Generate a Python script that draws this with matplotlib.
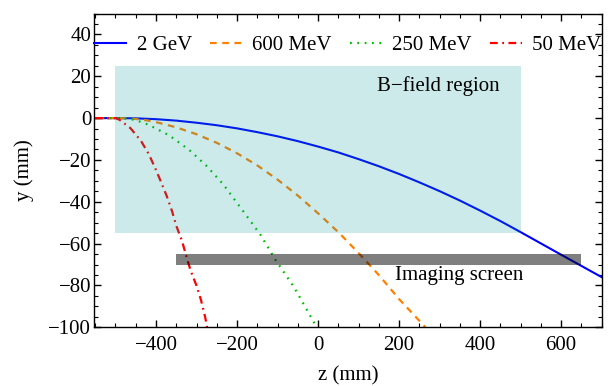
import numpy as np
import matplotlib.pyplot as plt
from matplotlib.patches import Rectangle
from matplotlib.ticker import MultipleLocator

plt.rcParams['font.family'] = ['Liberation Serif', 'DejaVu Serif']

# trajectories (z in mm, y in mm)
z_2gev = [-550, -500, -450, -400, -350, -300, -250, -200, -150, -100, -50, 0, 50,
          100, 150, 200, 250, 300, 350, 400, 450, 500, 600, 700]
y_2gev = [0, 0, -0.1, -0.5, -1.2, -2.2, -3.4, -4.9, -6.7, -8.7, -11.0, -13.6, -16.4,
          -19.6, -23.0, -26.7, -30.7, -34.9, -39.4, -44.2, -49.2, -54.5, -65.3, -76]

z_600 = [-550, -500, -475, -450, -425, -400, -350, -300, -250, -200, -150, -100, -50,
         0, 50, 100, 150, 200, 265]
y_600 = [0, 0, -0.1, -0.4, -1.0, -1.9, -4.4, -7.7, -11.8, -16.8, -22.6, -29.4, -37,
         -45.5, -54.5, -64.5, -75, -86.5, -100]

z_250 = [-550, -500, -475, -450, -418, -367, -318, -276, -235, -184, -142, -104, -60, -11, -3]
y_250 = [0, 0, -0.2, -0.9, -3.2, -8.3, -15.2, -22.7, -31.4, -44.7, -55.8, -68.1, -80.6, -97.3, -100]

z_50 = [-550, -500, -490, -463, -437, -418, -402, -388, -373, -360, -350, -336, -326,
        -315, -300, -289, -278, -274]
y_50 = [0, 0, -0.8, -4.8, -10.9, -17.1, -23.9, -30.3, -37.5, -44.7, -51.4, -58.6, -65.4,
        -72.6, -80.1, -86.9, -95.7, -100]

# regions
bfield_z = (-500, 500)
bfield_y = (-55, 25)
screen_z = (-350, 650)
screen_y = (-70, -65)

fig, ax = plt.subplots(figsize=(6.08, 3.86), dpi=100)
fig.subplots_adjust(left=0.1546, right=0.9896, top=0.965, bottom=0.152)

ax.plot(z_2gev, y_2gev, color='#0000ff', lw=1.5, label='2 GeV')
ax.plot(z_600, y_600, color='#ff8000', lw=1.6, ls=(0, (3, 2.5)), label='600 MeV')
ax.plot(z_250, y_250, color='#00c000', lw=1.6, ls=(0, (0.8, 2.5)), label='250 MeV')
ax.plot(z_50, y_50, color='#ff0000', lw=1.6, ls=(0, (3.5, 2, 0.8, 2)), label='50 MeV')

ax.add_patch(Rectangle((bfield_z[0], bfield_y[0]), bfield_z[1] - bfield_z[0],
                       bfield_y[1] - bfield_y[0], facecolor=(0, 0.6, 0.6),
                       alpha=0.2, edgecolor='none', zorder=3))
ax.add_patch(Rectangle((screen_z[0], screen_y[0]), screen_z[1] - screen_z[0],
                       screen_y[1] - screen_y[0], facecolor='black',
                       alpha=0.5, edgecolor='none', zorder=3))

ax.text(298, 15.5, 'B\u2212field region', fontsize=15, ha='center', va='center')
ax.text(348, -75, 'Imaging screen', fontsize=15, ha='center', va='center')

ax.set_xlim(-553, 700)
ax.set_ylim(-100, 50)
ax.xaxis.set_major_locator(MultipleLocator(200))
ax.xaxis.set_minor_locator(MultipleLocator(50))
ax.yaxis.set_minor_locator(MultipleLocator(5))
ax.set_yticks([-100, -80, -60, -40, -20, 0, 20, 40])
ax.tick_params(which='both', direction='in', top=True, right=True, labelsize=15)
ax.tick_params(which='major', length=5, width=1)
ax.tick_params(which='minor', length=3, width=0.8)
ax.tick_params(axis='x', pad=6)
ax.tick_params(axis='y', pad=2)
for s in ax.spines.values():
    s.set_linewidth(1)

ax.set_xlabel('z (mm)', fontsize=15, labelpad=8)
ax.set_ylabel('y (mm)', fontsize=15, labelpad=10)

ax.legend(loc='upper left', bbox_to_anchor=(0.0, 0.93), ncol=4, frameon=False,
          fontsize=15, handlelength=1.55, handletextpad=0.5, columnspacing=0.85,
          borderaxespad=0, borderpad=0)

fig.savefig('out.png', dpi=100)
